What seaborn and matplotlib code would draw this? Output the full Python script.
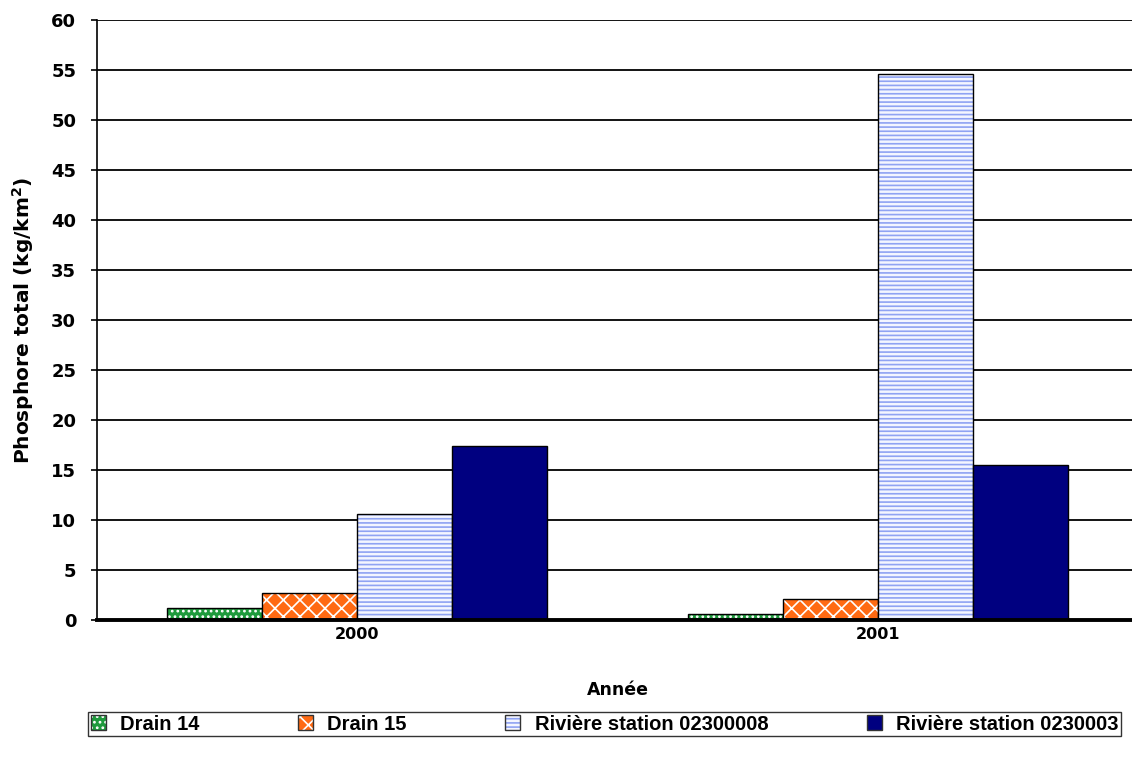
import pandas as pd
import seaborn as sns
import matplotlib.pyplot as plt
from matplotlib.colors import to_rgba
from matplotlib.patches import Patch

# données
annees = ['2000', '2001']
stations = ['Drain 14', 'Drain 15', 'Rivière station 02300008', 'Rivière station 0230003']
drain14 = [1.2, 0.6]
drain15 = [2.7, 2.1]
riviere_08 = [10.6, 54.6]
riviere_03 = [17.4, 15.5]

df = pd.DataFrame({
    'Année': annees * 4,
    'Station': [s for s in stations for _ in annees],
    'Phosphore': drain14 + drain15 + riviere_08 + riviere_03,
})

sns.set_theme(style='white')
plt.rcParams['font.family'] = ['DejaVu Sans']
plt.rcParams['hatch.linewidth'] = 1.2

# couleurs et motifs façon Excel
faces = ['#1e9a3c', '#ff6a13', '#f4f6ff', '#000080']
hatch_cols = ['white', 'white', '#8fa3f3', '#000080']
hatches = ['...', 'xx', '----', '']

fig = plt.figure(figsize=(11.32, 7.62), dpi=100)
ax = fig.add_axes([0.0857, 0.186, 0.9196, 0.788])

sns.barplot(data=df, x='Année', y='Phosphore', hue='Station', hue_order=stations,
            width=0.73, ax=ax, legend=False)

for cont, fc, hc, h in zip(ax.containers, faces, hatch_cols, hatches):
    for bar in cont:
        bar.set_facecolor(fc)
        bar.set_edgecolor('black')
        bar.set_linewidth(1.0)
        bar.set_hatch(h)
        bar._hatch_color = to_rgba(hc)

ax.set_ylim(0, 60)
ax.set_xlim(-0.5, 1.5)
ax.set_yticks(range(0, 61, 5))
ax.yaxis.grid(True, color='black', linewidth=1.3)
ax.set_axisbelow(True)

for s in ['top', 'right']:
    ax.spines[s].set_visible(False)
ax.spines['left'].set_color('black')
ax.spines['left'].set_linewidth(1.2)
ax.spines['bottom'].set_color('black')
ax.spines['bottom'].set_linewidth(2.8)

# graduations entre les catégories
ax.set_xticks([0, 1])
ax.set_xticks([-0.5, 0.5, 1.5], minor=True)
ax.tick_params(axis='x', which='major', length=0, pad=5, labelsize=11.5)
ax.tick_params(axis='x', which='minor', direction='out', length=6, width=1.2, color='black')
ax.tick_params(axis='y', direction='out', length=4, width=1.2, color='black', left=True,
               pad=11, labelsize=13)

for lab in ax.get_xticklabels() + ax.get_yticklabels():
    lab.set_fontweight('heavy')
    lab.set_color('black')

ax.set_xlabel('Année', fontsize=12.5, fontweight='bold', color='black', labelpad=28)
ax.set_ylabel('Phosphore total (kg/km$^\\mathbf{2}$)', fontsize=14.5, fontweight='bold',
              color='black', labelpad=11)

handles = []
for fc, hc, h, name in zip(faces, hatch_cols, hatches, stations):
    p = Patch(facecolor=fc, edgecolor='#333333', hatch=h, label=name)
    p._hatch_color = to_rgba(hc)
    handles.append(p)

leg = fig.legend(handles=handles, loc='lower left', bbox_to_anchor=(0.078, 0.034),
                 ncol=4, frameon=True, fancybox=False,
                 prop={'family': 'Liberation Sans', 'weight': 'bold', 'size': 14.5},
                 handlelength=0.75, handleheight=0.75, handletextpad=0.7, borderpad=0.12,
                 borderaxespad=0, columnspacing=4.9)
leg.get_frame().set_edgecolor('black')
leg.get_frame().set_linewidth(1.0)
for t in leg.get_texts():
    t.set_color('black')

fig.savefig('out.png', dpi=100)
